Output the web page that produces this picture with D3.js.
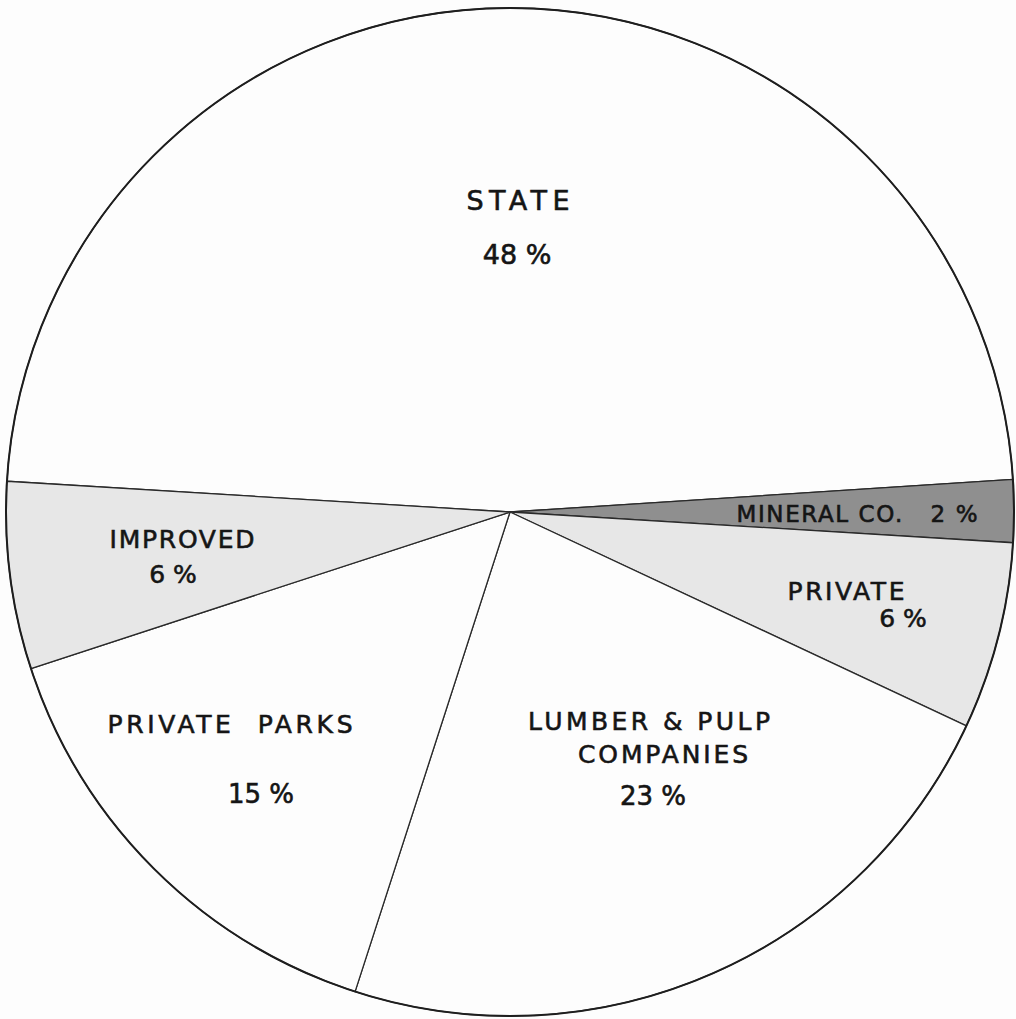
<!DOCTYPE html>
<html>
<head>
<meta charset="utf-8">
<script src="https://cdn.jsdelivr.net/npm/d3@7"></script>
<style>
  html, body { margin: 0; padding: 0; background: #fdfdfd; }
  svg { display: block; }
  text { font-family: "DejaVu Sans", sans-serif; fill: #151515; stroke: #151515; stroke-width: 0.6; white-space: pre; }
</style>
</head>
<body>
<svg id="chart" width="1016" height="1019"></svg>
<script>
// Ownership of land, share of total (percent)
const categories = ["STATE", "MINERAL CO.", "PRIVATE", "LUMBER & PULP COMPANIES", "PRIVATE PARKS", "IMPROVED"];
const shares = [48, 2, 6, 23, 15, 6];
const shades = ["#fdfdfd", "#8f8f8f", "#e7e7e7", "#fdfdfd", "#fdfdfd", "#e7e7e7"];

// Label lines for each slice (name first, then the value line)
const labelLines = [
  ["STATE", "48 %"],
  ["MINERAL CO.   2 %"],
  ["PRIVATE", "6 %"],
  ["LUMBER & PULP", "COMPANIES", "23 %"],
  ["PRIVATE  PARKS", "15 %"],
  ["IMPROVED", "6 %"]
];

// Layout
const cx = 510, cy = 512, R = 504;
const startDeg = -86.5;
// anchor points (relative to the centre) and sizes for each label line; w = 0 keeps natural width
const labelLayout = [
  [{dx: 8, dy: -302, w: 103, fs: 27}, {dx: 7, dy: -248, w: 0, fs: 27}],
  [{dx: 347, dy: 10, w: 241, fs: 23}],
  [{dx: 336, dy: 88, w: 117, fs: 25}, {dx: 393, dy: 115, w: 0, fs: 25}],
  [{dx: 139, dy: 218, w: 242, fs: 25}, {dx: 153, dy: 251, w: 170, fs: 25}, {dx: 143, dy: 293, w: 0, fs: 26}],
  [{dx: -280, dy: 221, w: 245, fs: 25}, {dx: -249, dy: 291, w: 0, fs: 26}],
  [{dx: -328, dy: 36, w: 145, fs: 25}, {dx: -337, dy: 71, w: 0, fs: 25}]
];

const svg = d3.select("#chart");
const g = svg.append("g").attr("transform", `translate(${cx},${cy})`);

const rad = d => d * Math.PI / 180;
const pie = d3.pie()
  .sort(null)
  .value(d => d)
  .startAngle(rad(startDeg))
  .endAngle(rad(startDeg + 360));

const arc = d3.arc().innerRadius(0).outerRadius(R);

const arcs = pie(shares);

g.selectAll("path.slice")
  .data(arcs)
  .join("path")
  .attr("class", "slice")
  .attr("d", arc)
  .attr("fill", (d, i) => shades[i])
  .attr("stroke", "#2a2a2a")
  .attr("stroke-width", 1.3)
  .attr("stroke-linejoin", "round");

// outer rim
g.append("circle")
  .attr("r", R)
  .attr("fill", "none")
  .attr("stroke", "#1e1e1e")
  .attr("stroke-width", 2);

// labels
labelLines.forEach((lines, i) => {
  lines.forEach((t, j) => {
    const p = labelLayout[i][j];
    const txt = g.append("text")
      .attr("x", p.dx)
      .attr("y", p.dy)
      .attr("text-anchor", "middle")
      .attr("font-size", p.fs)
      .text(t);
    if (p.w) txt.attr("textLength", p.w).attr("lengthAdjust", "spacing");
  });
});
</script>
</body>
</html>
